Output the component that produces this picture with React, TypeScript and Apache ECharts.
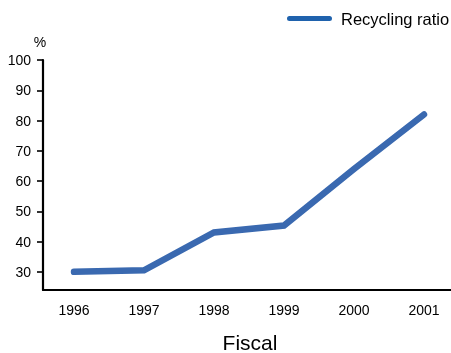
import React, { useEffect, useRef } from "react";
import * as echarts from "echarts";

// Recycling ratio by fiscal year (%)
const years = [1996, 1997, 1998, 1999, 2000, 2001];
const recyclingRatio = [30, 30.5, 43, 45.3, 64, 82];
const yTickValues = [30, 40, 50, 60, 70, 80, 90, 100];
const seriesName = "Recycling ratio";
const xAxisTitle = "Fiscal";
const yAxisUnit = "%";

const FONT = "'Liberation Sans', Arial, Helvetica, sans-serif";

export default function App() {
  const ref = useRef<HTMLDivElement>(null);

  useEffect(() => {
    if (!ref.current) return;
    const chart = echarts.init(ref.current, null, { renderer: "svg" });
    const points = years.map((y, i) => [y, recyclingRatio[i]]);

    chart.setOption({
      animation: false,
      grid: { left: 43, right: 0, top: 60, bottom: 63, containLabel: false },
      xAxis: {
        type: "value",
        min: 1995.557,
        max: 2001.386,
        splitLine: { show: false },
        axisLine: { show: true, onZero: false, lineStyle: { color: "#000", width: 2.2 } },
        axisTick: { show: false },
        axisLabel: {
          customValues: years,
          margin: 13,
          fontFamily: FONT,
          fontSize: 14,
          color: "#000",
          formatter: (v: number) => String(Math.round(v)),
        },
      },
      yAxis: {
        type: "value",
        min: 24,
        max: 100,
        splitLine: { show: false },
        axisLine: { show: true, onZero: false, lineStyle: { color: "#000", width: 2.2 } },
        axisTick: {
          show: true,
          customValues: yTickValues,
          length: 6,
          lineStyle: { color: "#000", width: 1.6 },
        },
        axisLabel: {
          customValues: yTickValues,
          margin: 12,
          fontFamily: FONT,
          fontSize: 14,
          color: "#000",
        },
      },
      graphic: [
        // legend key
        {
          type: "rect",
          shape: { x: 287, y: 16, width: 45, height: 5, r: 2.5 },
          style: { fill: "#1f62ad" },
        },
        {
          type: "text",
          x: 341,
          y: 19,
          style: {
            text: seriesName,
            fontFamily: FONT,
            fontSize: 16.5,
            fill: "#000",
            verticalAlign: "middle",
          },
        },
        {
          type: "text",
          x: 40,
          y: 42,
          style: {
            text: yAxisUnit,
            fontFamily: FONT,
            fontSize: 14,
            fill: "#000",
            align: "center",
            verticalAlign: "middle",
          },
        },
        {
          type: "text",
          x: 250,
          y: 342,
          style: {
            text: xAxisTitle,
            fontFamily: FONT,
            fontSize: 21,
            fill: "#000",
            align: "center",
            verticalAlign: "middle",
          },
        },
      ],
      series: [
        {
          name: seriesName,
          type: "line",
          data: points,
          showSymbol: false,
          symbol: "none",
          lineStyle: { color: "#3a69b0", width: 6.5, cap: "round", join: "miter" },
          itemStyle: { color: "#1f62ad" },
        },
      ],
    });

    return () => chart.dispose();
  }, []);

  return (
    <div
      ref={ref}
      style={{ position: "fixed", left: 0, top: 0, width: 451, height: 353 }}
    />
  );
}
